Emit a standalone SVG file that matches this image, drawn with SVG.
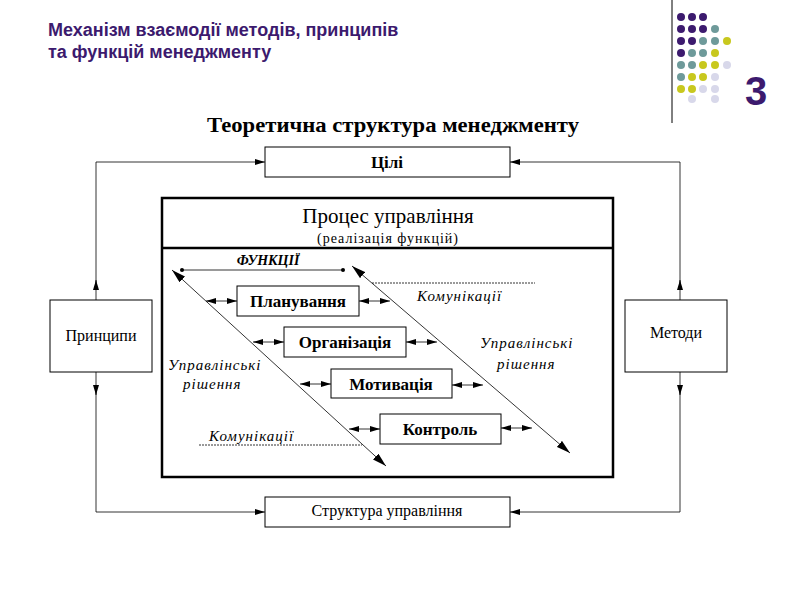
<svg xmlns="http://www.w3.org/2000/svg" width="800" height="600" viewBox="0 0 800 600">
<style>
.s{font-family:"Liberation Serif",serif;fill:#000}
.b{fill:#fff;stroke:#000;stroke-width:1}
.c{fill:none;stroke:#000;stroke-width:0.8}
.d{fill:none;stroke:#000;stroke-width:0.8;stroke-dasharray:2,1}
.i{font-family:"Liberation Serif",serif;font-style:italic;font-size:15px;letter-spacing:1px}
</style>
<defs>
<marker id="a" viewBox="0 0 10 6" refX="10" refY="3" markerWidth="10" markerHeight="6" markerUnits="userSpaceOnUse" orient="auto-start-reverse"><path d="M0,0L10,3L0,6z"/></marker>
<marker id="a2" viewBox="0 0 14 8" refX="14" refY="4" markerWidth="14" markerHeight="8" markerUnits="userSpaceOnUse" orient="auto-start-reverse"><path d="M0,0L14,4L0,8z"/></marker>
<marker id="o" viewBox="0 0 4 4" refX="2" refY="2" markerWidth="4" markerHeight="4" markerUnits="userSpaceOnUse"><circle cx="2" cy="2" r="2"/></marker>
</defs>
<rect width="800" height="600" fill="#fff"/>
<text x="48" y="36" font-family="Liberation Sans,sans-serif" font-size="18" font-weight="bold" fill="#3c1a6e">Механізм взаємодії методів, принципів</text>
<text x="48" y="58" font-family="Liberation Sans,sans-serif" font-size="18" font-weight="bold" fill="#3c1a6e">та функцій менеджменту</text>
<line x1="672" y1="0" x2="672" y2="123" stroke="#000"/>
<g id="dots">
<g fill="#3c1a6e"><circle cx="681" cy="17" r="4"/><circle cx="692" cy="17" r="4"/><circle cx="703" cy="17" r="4"/><circle cx="681" cy="29" r="4"/><circle cx="692" cy="29" r="4"/><circle cx="703" cy="29" r="4"/><circle cx="681" cy="41" r="4"/><circle cx="692" cy="41" r="4"/><circle cx="681" cy="53" r="4"/></g>
<g fill="#6e9a9a"><circle cx="715" cy="29" r="4"/><circle cx="703" cy="41" r="4"/><circle cx="715" cy="41" r="4"/><circle cx="692" cy="53" r="4"/><circle cx="703" cy="53" r="4"/><circle cx="681" cy="65" r="4"/><circle cx="692" cy="65" r="4"/><circle cx="681" cy="77" r="4"/></g>
<g fill="#c8c81e"><circle cx="727" cy="41" r="4"/><circle cx="715" cy="53" r="4"/><circle cx="703" cy="65" r="4"/><circle cx="715" cy="65" r="4"/><circle cx="692" cy="77" r="4"/><circle cx="703" cy="77" r="4"/><circle cx="681" cy="89" r="4"/><circle cx="692" cy="89" r="4"/></g>
<g fill="#d8d8ea"><circle cx="727" cy="65" r="4"/><circle cx="715" cy="77" r="4"/><circle cx="703" cy="89" r="4"/><circle cx="715" cy="89" r="4"/><circle cx="692" cy="99" r="4"/><circle cx="715" cy="99" r="4"/></g>
</g>
<text x="745" y="105" font-family="Liberation Sans,sans-serif" font-size="40" font-weight="bold" fill="#3c1a6e">3</text>
<text x="393" y="132" text-anchor="middle" class="s" font-size="21" font-weight="bold" textLength="372" lengthAdjust="spacingAndGlyphs">Теоретична структура менеджменту</text>
<g id="connectors">
<polyline class="c" points="96,300 96,162 265,162" marker-end="url(#a)"/>
<polyline class="c" points="680,300 680,162 510,162" marker-end="url(#a)"/>
<polyline class="c" points="96,372 96,512 265,512" marker-end="url(#a)"/>
<polyline class="c" points="680,372 680,512 510,512" marker-end="url(#a)"/>
<line class="c" x1="96" y1="285" x2="96" y2="280" marker-end="url(#a)"/>
<line class="c" x1="680" y1="285" x2="680" y2="280" marker-end="url(#a)"/>
<line class="c" x1="96" y1="390" x2="96" y2="395" marker-end="url(#a)"/>
<line class="c" x1="680" y1="390" x2="680" y2="395" marker-end="url(#a)"/>
<line class="c" x1="172" y1="270" x2="386" y2="466" marker-start="url(#a2)" marker-end="url(#a2)"/>
<line class="c" x1="352" y1="266" x2="570" y2="453" marker-start="url(#a2)" marker-end="url(#a2)"/>
<line class="c" x1="182" y1="270" x2="343" y2="270" marker-start="url(#o)" marker-end="url(#o)"/>
<line class="d" x1="372" y1="283" x2="535" y2="283"/>
<line class="d" x1="199" y1="445" x2="362" y2="445"/>
<g stroke="#000" stroke-width="0.8">
<line x1="206" y1="301" x2="237" y2="301" marker-start="url(#a)" marker-end="url(#a)"/>
<line x1="359" y1="301" x2="390" y2="301" marker-start="url(#a)" marker-end="url(#a)"/>
<line x1="253" y1="342" x2="284" y2="342" marker-start="url(#a)" marker-end="url(#a)"/>
<line x1="406" y1="342" x2="437" y2="342" marker-start="url(#a)" marker-end="url(#a)"/>
<line x1="300" y1="384" x2="331" y2="384" marker-start="url(#a)" marker-end="url(#a)"/>
<line x1="452" y1="385" x2="483" y2="385" marker-start="url(#a)" marker-end="url(#a)"/>
<line x1="349" y1="429" x2="380" y2="429" marker-start="url(#a)" marker-end="url(#a)"/>
<line x1="501" y1="428" x2="532" y2="428" marker-start="url(#a)" marker-end="url(#a)"/>
</g>
</g>
<g id="goals"><rect class="b" x="265" y="147" width="245" height="30"/><text x="387" y="168" text-anchor="middle" class="s" font-size="17" font-weight="bold">Цілі</text></g>
<g id="structure"><rect class="b" x="265" y="497" width="245" height="30"/><text x="387" y="516" text-anchor="middle" class="s" font-size="16">Структура управління</text></g>
<g id="principles"><rect class="b" x="50" y="300" width="102" height="72"/><text x="101" y="341" text-anchor="middle" class="s" font-size="16">Принципи</text></g>
<g id="methods"><rect class="b" x="625" y="300" width="102" height="72"/><text x="676" y="338" text-anchor="middle" class="s" font-size="16">Методи</text></g>
<g id="process">
<rect x="162" y="198" width="451" height="279" fill="none" stroke="#000" stroke-width="2.5"/>
<line x1="162" y1="248" x2="613" y2="248" stroke="#000" stroke-width="2.5"/>
<text x="388" y="223" text-anchor="middle" class="s" font-size="21">Процес управління</text>
<text x="388" y="243" text-anchor="middle" class="s" font-size="14" letter-spacing="1">(реалізація функцій)</text>
<text x="268" y="265" text-anchor="middle" class="s" font-size="14" font-weight="bold" font-style="italic">ФУНКЦІЇ</text>
</g>
<g id="planning"><rect class="b" x="237" y="286" width="122" height="30"/><text x="298" y="307" text-anchor="middle" class="s" font-size="17" font-weight="bold">Планування</text></g>
<g id="organization"><rect class="b" x="284" y="327" width="122" height="30"/><text x="345" y="348" text-anchor="middle" class="s" font-size="17" font-weight="bold">Організація</text></g>
<g id="motivation"><rect class="b" x="331" y="369" width="121" height="29"/><text x="391" y="390" text-anchor="middle" class="s" font-size="17" font-weight="bold">Мотивація</text></g>
<g id="control"><rect class="b" x="380" y="414" width="121" height="30"/><text x="440" y="435" text-anchor="middle" class="s" font-size="17" font-weight="bold">Контроль</text></g>
<text x="417" y="301" class="i">Комунікації</text>
<text x="209" y="441" class="i">Комунікації</text>
<text x="480" y="348" class="i">Управлінські</text>
<text x="497" y="369" class="i">рішення</text>
<text x="168" y="370" class="i">Управлінські</text>
<text x="183" y="389" class="i">рішення</text>
</svg>
